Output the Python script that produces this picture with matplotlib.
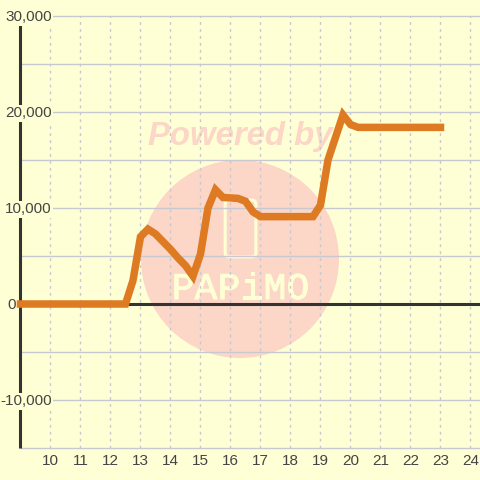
import matplotlib
matplotlib.use('Agg')
import matplotlib.pyplot as plt
import matplotlib.patheffects as pe
from matplotlib.patches import Circle, FancyBboxPatch

plt.rcParams['font.family'] = ['Liberation Sans', 'DejaVu Sans']

hours = [9, 12.5, 12.75, 13, 13.25, 13.5, 14, 14.25, 14.5, 14.75, 15, 15.25,
         15.5, 15.75, 16.25, 16.5, 16.75, 17, 18.75, 19, 19.25, 19.75, 20,
         20.25, 23]
values = [0, 0, 2450, 7000, 7800, 7300, 5700, 4800, 4000, 2900, 5200, 10000,
          11900, 11100, 11000, 10700, 9600, 9100, 9100, 10300, 15000, 19700,
          18700, 18400, 18400]
x_ticks = list(range(10, 25))
y_labelled = [30000, 20000, 10000, 0, -10000]
y_minor = [25000, 15000, 5000, -5000, -15000]
mark_letters = ['P', 'A', 'P', 'i', 'M', 'O']
mark_letter_px = [183, 206, 229, 252, 275, 298]

BG = '#FFFFD5'
GRID = '#C8C8D0'
AXIS = '#333333'
TEXT = '#444444'
LINE = '#DD7A22'
MARK = '#FCD6C6'


def to_fig(x, y):
    # watermark is laid out in image pixels
    return x / 480, 1 - y / 480


fig = plt.figure(figsize=(4.8, 4.8), dpi=100, facecolor=BG)
ax = fig.add_axes([0, 0, 1, 1], facecolor=BG)
ax.set_xlim(8.317, 24.317)
ax.set_ylim(-18333, 31667)
ax.axis('off')

ax.add_patch(Circle(to_fig(240, 259), 99 / 480, transform=fig.transFigure,
                    facecolor=MARK, edgecolor='none', zorder=1))
ax.text(*to_fig(240, 137), 'Powered by', transform=fig.transFigure, color=MARK,
        fontsize=23.7, fontweight='bold', fontstyle='italic', ha='center',
        va='center', zorder=1)
ax.add_patch(FancyBboxPatch(to_fig(229, 253), 23 / 480, 49 / 480,
                            boxstyle='round,pad=0.008',
                            transform=fig.transFigure, facecolor='none',
                            edgecolor=BG, linewidth=2.2, zorder=1))
for letter, x in zip(mark_letters, mark_letter_px):
    ax.text(*to_fig(x, 289), letter, transform=fig.transFigure, color=BG,
            fontsize=27, family='Liberation Mono', ha='center', va='center',
            zorder=1, path_effects=[pe.withStroke(linewidth=0.8, foreground=BG)])

# grid
ax.vlines(x_ticks, -15000, 30000, color=GRID, linewidth=1,
          linestyle=(0, (2, 3)), zorder=2)
ax.hlines(y_labelled + y_minor, 9, 24.317, color=GRID, linewidth=1, zorder=2)

# axes
ax.hlines(0, 9, 24.317, color=AXIS, linewidth=2.2, zorder=3)
ax.vlines(9, -15000, 30000, color=AXIS, linewidth=2.2, zorder=3)

for v in y_labelled:
    if v == 0:
        # the zero label sits left of the axis line
        ax.annotate(f'{v:,}', (9, v), xytext=(-3, -1), textcoords='offset points',
                    ha='right', va='center', color=TEXT, fontsize=11, zorder=5)
    else:
        ax.annotate(f'{v:,}', (9, v), xytext=(22.5, -1), textcoords='offset points',
                    ha='right', va='center', color=TEXT, fontsize=11, zorder=5,
                    bbox=dict(facecolor=BG, edgecolor='none', pad=1))
for t in x_ticks:
    ax.annotate(str(t), (t, -15000), xytext=(0, -9), textcoords='offset points',
                ha='center', va='center', color=TEXT, fontsize=11, zorder=5)

ax.plot(hours, values, color=LINE, linewidth=5.4, solid_joinstyle='miter',
        solid_capstyle='projecting', zorder=6)

fig.savefig('out.png', dpi=100, facecolor=BG)
